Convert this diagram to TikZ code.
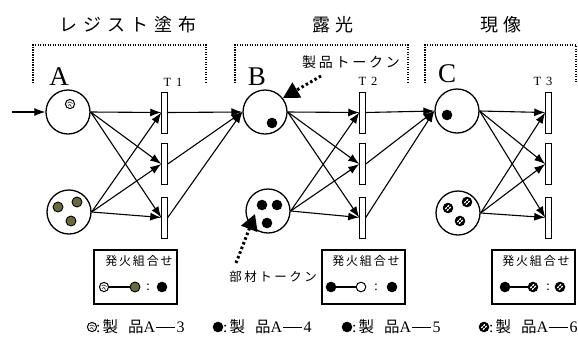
\documentclass[tikz,border=0pt]{standalone}
\usepackage{fontspec}
\setmainfont{Liberation Serif}
\newfontfamily\jp{Noto Sans CJK JP}
\newfontfamily\jptitle[LetterSpace=32]{Noto Sans CJK JP}
\newfontfamily\jplab[LetterSpace=20]{Noto Sans CJK JP}
\newfontfamily\jpbox[LetterSpace=15]{Noto Sans CJK JP}
\usetikzlibrary{arrows.meta}
\definecolor{olivetok}{RGB}{105,105,62}
\newcommand\legtxt[1]{:\hspace{2pt}{\jp 製}\hspace{10pt}{\jp 品}{\fontsize{16}{16}\selectfont A}\hspace{1pt}\rule[4.8pt]{19pt}{0.9pt}\hspace{1.5pt}{\fontsize{16}{16}\selectfont #1}}
\begin{document}
\begin{tikzpicture}[x=1pt,y=-1pt,
 place/.style={circle,draw,line width=1.3pt,minimum size=44pt,inner sep=0pt},
 trans/.style={rectangle,draw,fill=white,line width=1pt,minimum width=5.5pt,minimum height=41pt,inner sep=0pt},
 arc/.style={line width=1.1pt,-{Latex[length=11pt,width=8pt]}},
 bracket/.style={line width=1.2pt,dash pattern=on 1.2pt off 1.3pt},
 tokarrow/.style={line width=3pt,dash pattern=on 2.5pt off 2.5pt,-{Triangle[length=16pt,width=17pt]}},
 combo/.style={rectangle,draw,line width=1.2pt,minimum width=83pt,minimum height=54pt,inner sep=0pt},
 tlabel/.style={font=\fontsize{12.5}{12}\selectfont,inner sep=0pt},
 plabel/.style={font=\fontsize{27}{27}\selectfont,inner sep=0pt},
 title/.style={font=\jptitle\fontsize{18}{20}\selectfont,inner sep=0pt},
 boxtitle/.style={font=\jpbox\fontsize{12}{14}\selectfont,inner sep=0pt},
 legend/.style={font=\fontsize{15.5}{16}\selectfont,inner sep=0pt,anchor=west},
 colon/.style={font=\fontsize{14}{14}\selectfont,inner sep=0pt},
 tokthree/.pic={\draw[line width=1pt,fill=white] (0,0) circle (4.6pt);
   \draw[line width=0.5pt] (-2.5,-1) .. controls (-1,-3) and (1,-2) .. (2.5,-0.5);
   \draw[line width=0.5pt] (-2,1.5) -- (0,0.5) -- (1.5,2.5);},
 tokolive/.pic={\draw[line width=0.9pt,fill=olivetok] (0,0) circle (5pt);},
 tokblack/.pic={\fill (0,0) circle (5.3pt);},
 tokwhite/.pic={\draw[line width=1pt,fill=white] (0,0) circle (4.8pt);},
 toksix/.pic={\fill (0,0) circle (5.3pt);
   \fill[white,rotate=45] (-2.6,-1.9) rectangle (-0.5,1.9);
   \fill[white,rotate=45] (0.5,-1.9) rectangle (2.6,1.9);
   \fill[rotate=45] (-2.8,-0.4) rectangle (2.8,0.4);},
]
\useasboundingbox (0,0) rectangle (578,338);

% titles
\node[title] (t1) at (128,25) {レジスト塗布};
\node[title] (t2) at (333,25) {露光};
\node[title] (t3) at (501,25) {現像};

% dotted brackets
\draw[bracket] (33,83) -- (33,45) -- (206,45) -- (206,83);
\draw[bracket] (235,83) -- (235,45) -- (408,45) -- (408,83);
\draw[bracket] (425,83) -- (425,45) -- (576,45) -- (576,83);

% places
\node[place] (A) at (68,112) {};
\node[place] (Al) at (69,212) {};
\node[place] (B) at (265,112) {};
\node[place] (Bl) at (268,211) {};
\node[place] (C) at (457,111) {};
\node[place] (Cl) at (458,213) {};

\node[plabel] (lA) at (59,77) {A};
\node[plabel] (lB) at (257,77) {B};
\node[plabel] (lC) at (447,74) {C};

% transitions
\foreach \i/\x in {1/164.5,2/362.5,3/548.5}{
  \node[trans] (T\i a) at (\x,112.5) {};
  \node[trans] (T\i b) at (\x,164) {};
  \node[trans] (T\i c) at (\x,217.5) {};
}
\node[tlabel] (lT1) at (173,82) {T\hspace{5pt}1};
\node[tlabel] (lT2) at (368,81) {T\hspace{5pt}2};
\node[tlabel] (lT3) at (543,81) {T\hspace{5pt}3};

% arcs
\coordinate (in) at (12,112);
\draw[arc] (in) -- (A.west);
\foreach \s in {A,Al}{\foreach \t in {a,b,c}{\draw[arc] (\s.east) -- (T1\t.west);}}
\foreach \t in {a,b,c}{\draw[arc] (T1\t.east) -- (B.west);}
\foreach \s in {B,Bl}{\foreach \t in {a,b,c}{\draw[arc] (\s.east) -- (T2\t.west);}}
\foreach \t in {a,b,c}{\draw[arc] (T2\t.east) -- (C.west);}
\foreach \s in {C,Cl}{\foreach \t in {a,b,c}{\draw[arc] (\s.east) -- (T3\t.west);}}

% tokens in places
\pic at (70,104) {tokthree};
\pic at (272,123) {tokblack};
\pic at (447,115) {tokblack};
\pic at (58,207) {tokolive};
\pic at (77,202) {tokolive};
\pic at (71,221) {tokolive};
\pic at (262,205) {tokblack};
\pic at (277,205) {tokblack};
\pic at (267,223) {tokblack};
\pic at (448,208) {toksix};
\pic at (467,202) {toksix};
\pic at (460,221) {toksix};

% token annotations
\node[font=\jplab\fontsize{14}{16}\selectfont,inner sep=0pt] (ptok) at (351,62) {製品トークン};
\coordinate (ps) at (321,76);
\coordinate (pt) at (283,98);
\draw[tokarrow] (ps) -- (pt);
\node[font=\jplab\fontsize{12.5}{14}\selectfont,inner sep=0pt] (mtok) at (273,277) {部材トークン};
\coordinate (ms) at (236,263);
\coordinate (mt) at (255,214);
\draw[tokarrow] (ms) -- (mt);

% firing combination boxes
\node[combo] (K1) at (135.5,277) {};
\node[boxtitle] (K1t) at (139,261) {発火組合せ};
\coordinate (K1a) at (104,287); \coordinate (K1b) at (135,287); \coordinate (K1c) at (162,287);
\draw[line width=1.2pt] (K1a) -- (K1b);
\pic at (K1a) {tokthree}; \pic at (K1b) {tokolive}; \pic at (K1c) {tokblack};
\node[colon] (K1s) at (148,287) {:};

\node[combo] (K2) at (363.5,277) {};
\node[boxtitle] (K2t) at (366,261) {発火組合せ};
\coordinate (K2a) at (331,287); \coordinate (K2b) at (361,287); \coordinate (K2c) at (392,287);
\draw[line width=1.2pt] (K2a) -- (K2b);
\pic at (K2a) {tokblack}; \pic at (K2b) {tokwhite}; \pic at (K2c) {tokblack};
\node[colon] (K2s) at (376,287) {:};

\node[combo] (K3) at (533.5,277) {};
\node[boxtitle] (K3t) at (536,261) {発火組合せ};
\coordinate (K3a) at (505,287); \coordinate (K3b) at (533,287); \coordinate (K3c) at (560,287);
\draw[line width=1.2pt] (K3a) -- (K3b);
\pic at (K3a) {tokblack}; \pic at (K3b) {toksix}; \pic at (K3c) {toksix};
\node[colon] (K3s) at (548,287) {:};

% legend
\pic at (92,327) {tokthree};
\node[legend] (L3) at (96,327) {\legtxt{3}};
\pic at (218,327) {tokblack};
\node[legend] (L4) at (223,327) {\legtxt{4}};
\pic at (347,327) {tokblack};
\node[legend] (L5) at (352,327) {\legtxt{5}};
\pic at (484,327) {toksix};
\node[legend] (L6) at (489,327) {\legtxt{6}};
\end{tikzpicture}
\end{document}
